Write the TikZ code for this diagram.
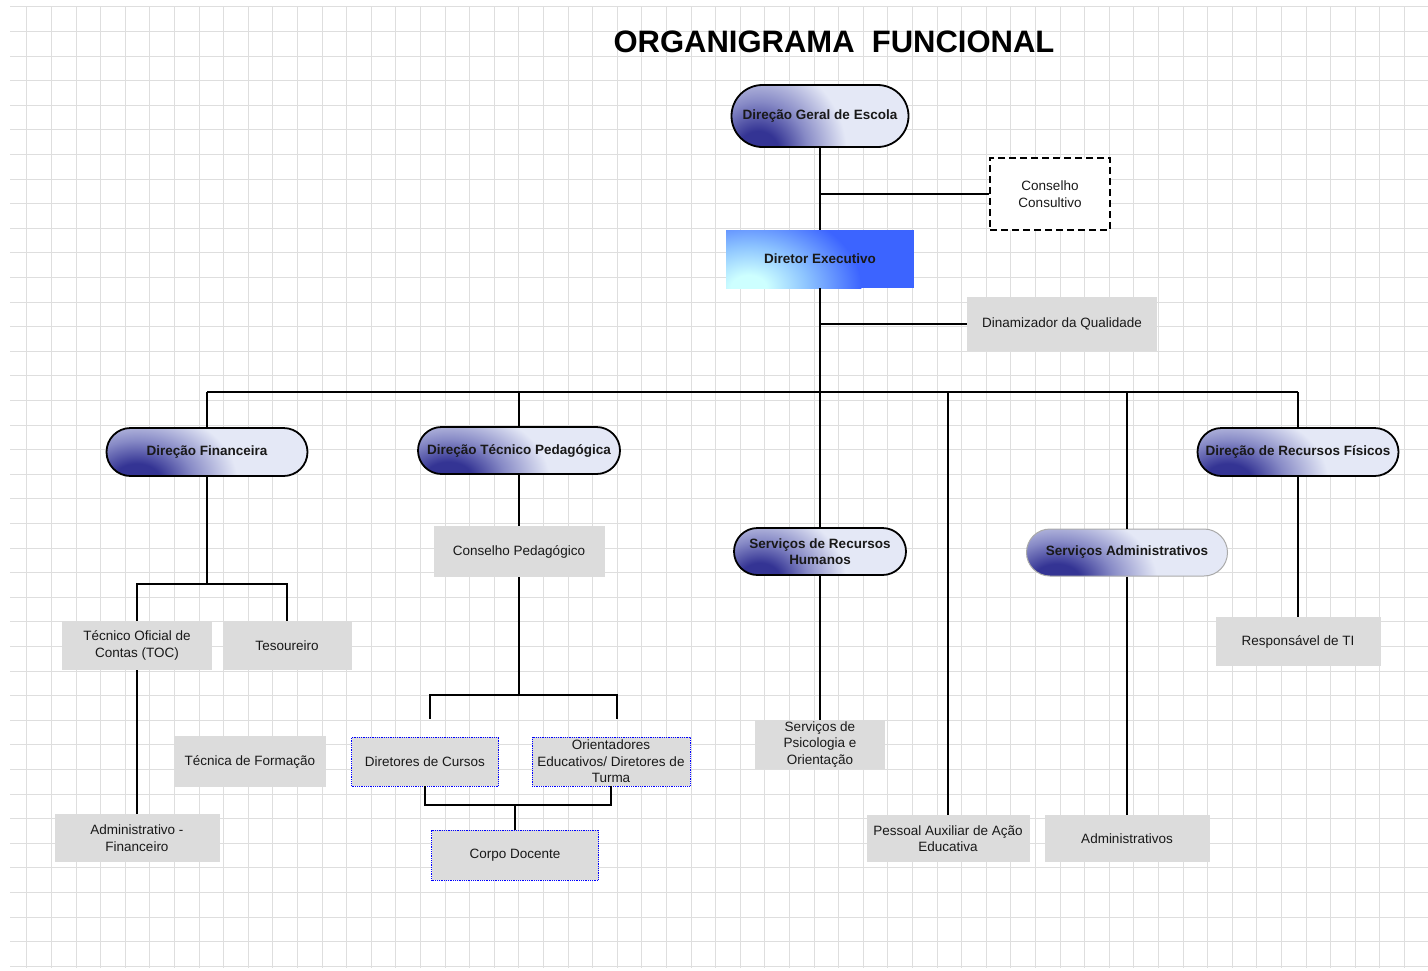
\documentclass[tikz,border=0pt]{standalone}
\usepackage{fontspec}
\setmainfont{Liberation Sans}
\usetikzlibrary{shapes.misc,calc}
\definecolor{pdark}{RGB}{52,52,148}
\definecolor{pmid}{RGB}{135,138,198}
\definecolor{plight}{RGB}{228,232,246}
\definecolor{gboxc}{RGB}{220,220,220}
\definecolor{gridc}{RGB}{222,222,222}
\definecolor{decyan}{RGB}{205,255,255}
\definecolor{demid}{RGB}{140,195,255}
\definecolor{deblue}{RGB}{60,100,255}
\definecolor{sagray}{RGB}{170,170,170}
\pgfdeclareradialshading{pillrad}{\pgfpoint{0bp}{0bp}}{color(0bp)=(pdark); color(6bp)=(pdark); color(14bp)=(pmid); color(25bp)=(plight); color(50bp)=(plight)}
\pgfdeclareradialshading{derad}{\pgfpoint{0bp}{0bp}}{color(0bp)=(decyan); color(4bp)=(decyan); color(13bp)=(demid); color(25bp)=(deblue); color(50bp)=(deblue)}
\begin{document}
\begin{tikzpicture}[x=1pt,y=-1pt,
  lbl/.style={font=\fontsize{13.5}{16.5}\selectfont, align=center, text=black!90, inner sep=0pt},
  pill/.style={rounded rectangle, draw=black, line width=1.8pt, align=center, text=black!90, inner sep=0pt, font=\bfseries\fontsize{13.5}{16}\selectfont,
    path picture={\fill[plight] (path picture bounding box.south west) rectangle (path picture bounding box.north east);
      \shade[shading=pillrad] let \p1=(path picture bounding box.south west), \p2=(path picture bounding box.north east) in ({\x1+0.15*(\x2-\x1)},{\y1-0.1*(\y2-\y1)}) ellipse [x radius={0.5*(\x2-\x1)}, y radius={1.5*(\y2-\y1)}];}},
  debox/.style={rectangle, align=center, inner sep=0pt, font=\bfseries\fontsize{13.5}{16}\selectfont, text=black!90,
    path picture={\fill[deblue] (path picture bounding box.south west) rectangle (path picture bounding box.north east);
      \shade[shading=derad] let \p1=(path picture bounding box.south west), \p2=(path picture bounding box.north east) in ({\x1+0.12*(\x2-\x1)},{\y1}) ellipse [x radius={0.6*(\x2-\x1)}, y radius={1.4*(\y2-\y1)}];}},
  gbox/.style={lbl, rectangle, fill=gboxc},
  dbox/.style={gbox, draw=blue, densely dotted, line width=0.8pt},
  conn/.style={line width=1.8pt, black}]
\useasboundingbox[fill=white] (0,0) rectangle (1428,970);
% grid
\foreach \i in {0,...,56} \draw[gridc, line width=0.8pt] ({26.7+24.6*\i},7) -- ({26.7+24.6*\i},968);
\foreach \j in {0,...,39} \draw[gridc, line width=0.8pt] (10,{6.7+24.6*\j}) -- (1428,{6.7+24.6*\j});
% title
\node[font=\bfseries\fontsize{31}{31}\selectfont, inner sep=0pt] (title) at (834,42) {ORGANIGRAMA\ \ FUNCIONAL};
% nodes
\node[pill, minimum width=177pt, minimum height=62pt] (dge) at (820,116) {Direção Geral de Escola};
\node[lbl, draw=black, dash pattern=on 7pt off 4pt, line width=1.6pt, fill=white, minimum width=120pt, minimum height=72pt] (cc) at (1050,194) {Conselho\\Consultivo};
\node[debox, minimum width=188pt, minimum height=58pt] (de) at (820,259) {Diretor Executivo};
\node[gbox, minimum width=190pt, minimum height=54pt] (dq) at (1062,324) {Dinamizador da Qualidade};
\node[pill, minimum width=201pt, minimum height=48pt] (df) at (207,452) {Direção Financeira};
\node[pill, minimum width=202pt, minimum height=47pt] (dtp) at (519,450.5) {Direção Técnico Pedagógica};
\node[pill, minimum width=201pt, minimum height=48pt] (drf) at (1298,452) {Direção de Recursos Físicos};
\node[pill, minimum width=172pt, minimum height=47pt] (srh) at (820,551.5) {Serviços de Recursos\\Humanos};
\node[pill, draw=sagray, line width=1pt, minimum width=201pt, minimum height=47pt] (sa) at (1127,552.5) {Serviços Administrativos};
\node[gbox, minimum width=171pt, minimum height=51pt] (cp) at (519,551.5) {Conselho Pedagógico};
\node[gbox, minimum width=150pt, minimum height=49pt] (toc) at (137,645.5) {Técnico Oficial de\\Contas (TOC)};
\node[gbox, minimum width=129pt, minimum height=49pt] (tes) at (287,645.5) {Tesoureiro};
\node[gbox, minimum width=152pt, minimum height=51pt] (tf) at (250,761.5) {Técnica de Formação};
\node[gbox, minimum width=165pt, minimum height=48pt] (af) at (137,838) {Administrativo -\\Financeiro};
\node[dbox, minimum width=147pt, minimum height=49pt] (dc) at (425,761.5) {Diretores de Cursos};
\node[dbox, minimum width=158pt, minimum height=49pt] (oe) at (611,761.5) {Orientadores\\Educativos/ Diretores de\\Turma};
\node[dbox, minimum width=167pt, minimum height=50pt] (cd) at (515,855) {Corpo Docente};
\node[gbox, minimum width=130pt, minimum height=49pt] (spo) at (820,744.5) {Serviços de\\Psicologia e\\Orientação};
\node[gbox, minimum width=163pt, minimum height=47pt] (pa) at (948,838.5) {Pessoal Auxiliar de Ação\\Educativa};
\node[gbox, minimum width=165pt, minimum height=47pt] (adm) at (1127,838.5) {Administrativos};
\node[gbox, minimum width=165pt, minimum height=49pt] (rti) at (1298,641.5) {Responsável de TI};
% connectors
\coordinate (bus) at (820,392);
\coordinate (fj) at (207,584);
\coordinate (pj) at (519,695);
\coordinate (pl) at (430,695);
\coordinate (pr) at (617,695);
\coordinate (pl2) at (430,719);
\coordinate (pr2) at (617,719);
\coordinate (lowj) at (515,805);
\draw[conn] (dge.south) -- (de.north);
\draw[conn] (dge.south |- cc.west) -- (cc.west);
\draw[conn] (de.south) -- (srh.north);
\draw[conn] (de.south |- dq.west) -- (dq.west);
\draw[conn] (df.north |- bus) -- (drf.north |- bus);
\draw[conn] (df.north |- bus) -- (df.north);
\draw[conn] (dtp.north |- bus) -- (dtp.north);
\draw[conn] (pa.north |- bus) -- (pa.north);
\draw[conn] (sa.north |- bus) -- (sa.north);
\draw[conn] (drf.north |- bus) -- (drf.north);
\draw[conn] (df.south) -- (df.south |- fj);
\draw[conn] (toc.north) -- (toc.north |- fj) -- (tes.north |- fj) -- (tes.north);
\draw[conn] (toc.south) -- (af.north);
\draw[conn] (dtp.south) -- (cp.north);
\draw[conn] (cp.south) -- (pj);
\draw[conn] (pl2) -- (pl) -- (pr) -- (pr2);
\draw[conn] (dc.south) -- (dc.south |- lowj) -- (oe.south |- lowj) -- (oe.south);
\draw[conn] (cd.north |- lowj) -- (cd.north);
\draw[conn] (srh.south) -- (spo.north);
\draw[conn] (sa.south) -- (adm.north);
\draw[conn] (drf.south) -- (rti.north);
\end{tikzpicture}
\end{document}
